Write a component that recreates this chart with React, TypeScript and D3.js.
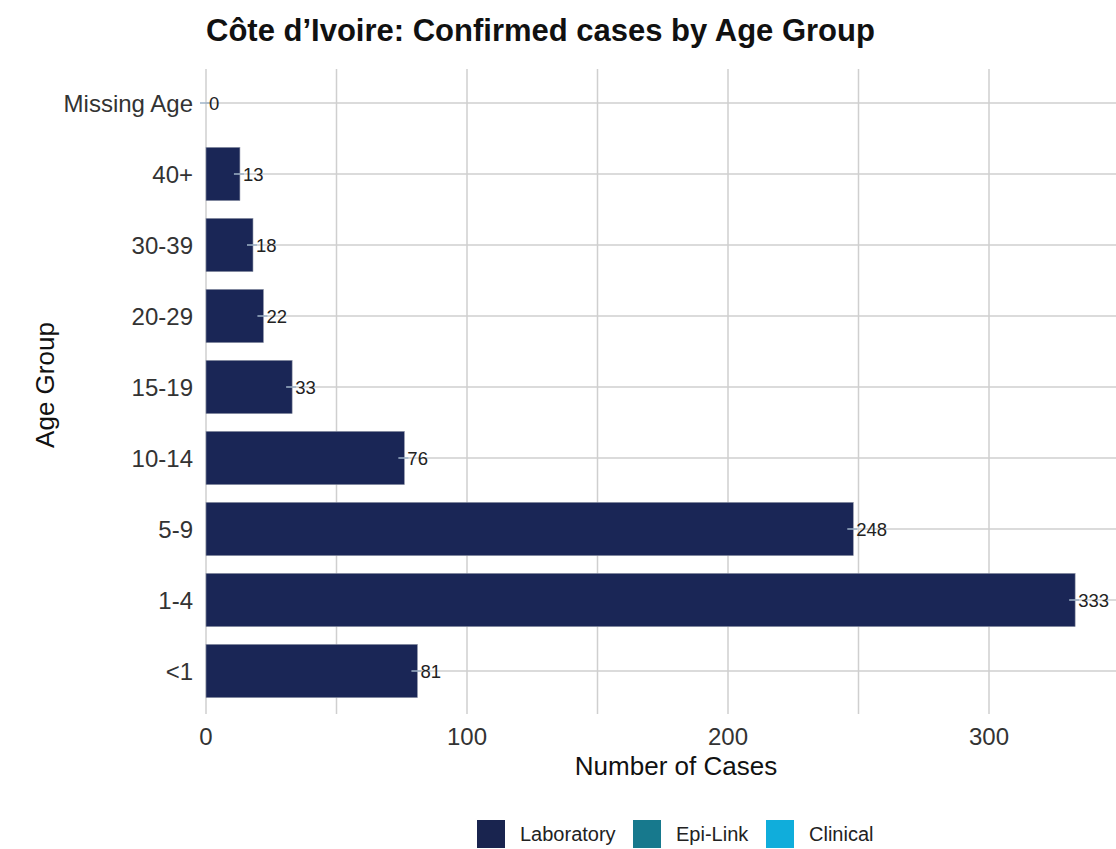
import * as d3 from "d3";

const categories = ["Missing Age", "40+", "30-39", "20-29", "15-19", "10-14", "5-9", "1-4", "<1"];
const laboratory = [0, 13, 18, 22, 33, 76, 248, 333, 81];
const xTicks = [0, 100, 200, 300];
const xMinor = [50, 150, 250];
const legendNames = ["Laboratory", "Epi-Link", "Clinical"];
const legendColors = ["#19244f", "#17798d", "#10addb"];

const WIDTH = 1116;
const HEIGHT = 849;
const LEFT = 206;
const PANEL_TOP = 69;
const PANEL_BOTTOM = 714;
const FONT = "'Liberation Sans', Arial, sans-serif";
const GRID = "#cfcfcf";

export default function App() {
	const x = d3.scaleLinear().domain([0, 350]).range([LEFT, LEFT + 350 * 2.61]);
	const y = d3.scaleBand<string>().domain(categories).range([67.5, 706.5]).padding(0);
	const barH = y.step() * 0.75;
	const cy = (c: string) => (y(c) ?? 0) + y.bandwidth() / 2;

	return (
		<svg
			width={WIDTH}
			height={HEIGHT}
			style={{ position: "absolute", left: 0, top: 0, background: "#fff" }}
			fontFamily={FONT}
		>
			<text x={LEFT} y={41} fontSize={31} fontWeight="bold" fill="#111">
				Côte d’Ivoire: Confirmed cases by Age Group
			</text>

			{/* grid */}
			{[...xMinor, ...xTicks].map((t) => (
				<line key={"v" + t} x1={x(t)} x2={x(t)} y1={PANEL_TOP} y2={PANEL_BOTTOM} stroke={GRID} strokeWidth={1.5} />
			))}
			{categories.map((c) => (
				<line key={"h" + c} x1={LEFT} x2={WIDTH} y1={cy(c)} y2={cy(c)} stroke={GRID} strokeWidth={1.5} />
			))}

			{/* bars */}
			{categories.map((c, i) => (
				<rect
					key={c}
					x={x(0)}
					y={cy(c) - barH / 2}
					width={x(laboratory[i]) - x(0)}
					height={barH}
					fill="#1a2656"
					stroke="#8d93a6"
					strokeWidth={0.6}
				/>
			))}

			{/* value labels */}
			{categories.map((c, i) => (
				<g key={"l" + c}>
					<line x1={x(laboratory[i]) - 6} x2={x(laboratory[i]) + 4} y1={cy(c)} y2={cy(c)} stroke="#9fb3c7" strokeWidth={1.5} />
					<text x={x(laboratory[i]) + 3} y={cy(c)} dominantBaseline="central" fontSize={18.5} fill="#222">
						{laboratory[i]}
					</text>
				</g>
			))}

			{/* y axis labels */}
			{categories.map((c) => (
				<text key={"y" + c} x={193} y={cy(c)} textAnchor="end" dominantBaseline="central" fontSize={24} fill="#333">
					{c}
				</text>
			))}

			{/* x axis labels */}
			{xTicks.map((t) => (
				<text key={"x" + t} x={x(t)} y={736} textAnchor="middle" dominantBaseline="central" fontSize={24} fill="#333">
					{t}
				</text>
			))}

			<text x={676} y={766} textAnchor="middle" dominantBaseline="central" fontSize={26} fill="#111">
				Number of Cases
			</text>
			<text
				transform={`translate(45, 385) rotate(-90)`}
				textAnchor="middle"
				dominantBaseline="central"
				fontSize={26}
				fill="#111"
			>
				Age Group
			</text>

			{/* legend */}
			{legendNames.map((n, i) => {
				const bx = [477, 633, 766][i];
				return (
					<g key={n}>
						<rect x={bx} y={820} width={28} height={28} fill={legendColors[i]} />
						<text x={bx + 43} y={834} dominantBaseline="central" fontSize={20} fill="#222">
							{n}
						</text>
					</g>
				);
			})}
		</svg>
	);
}
